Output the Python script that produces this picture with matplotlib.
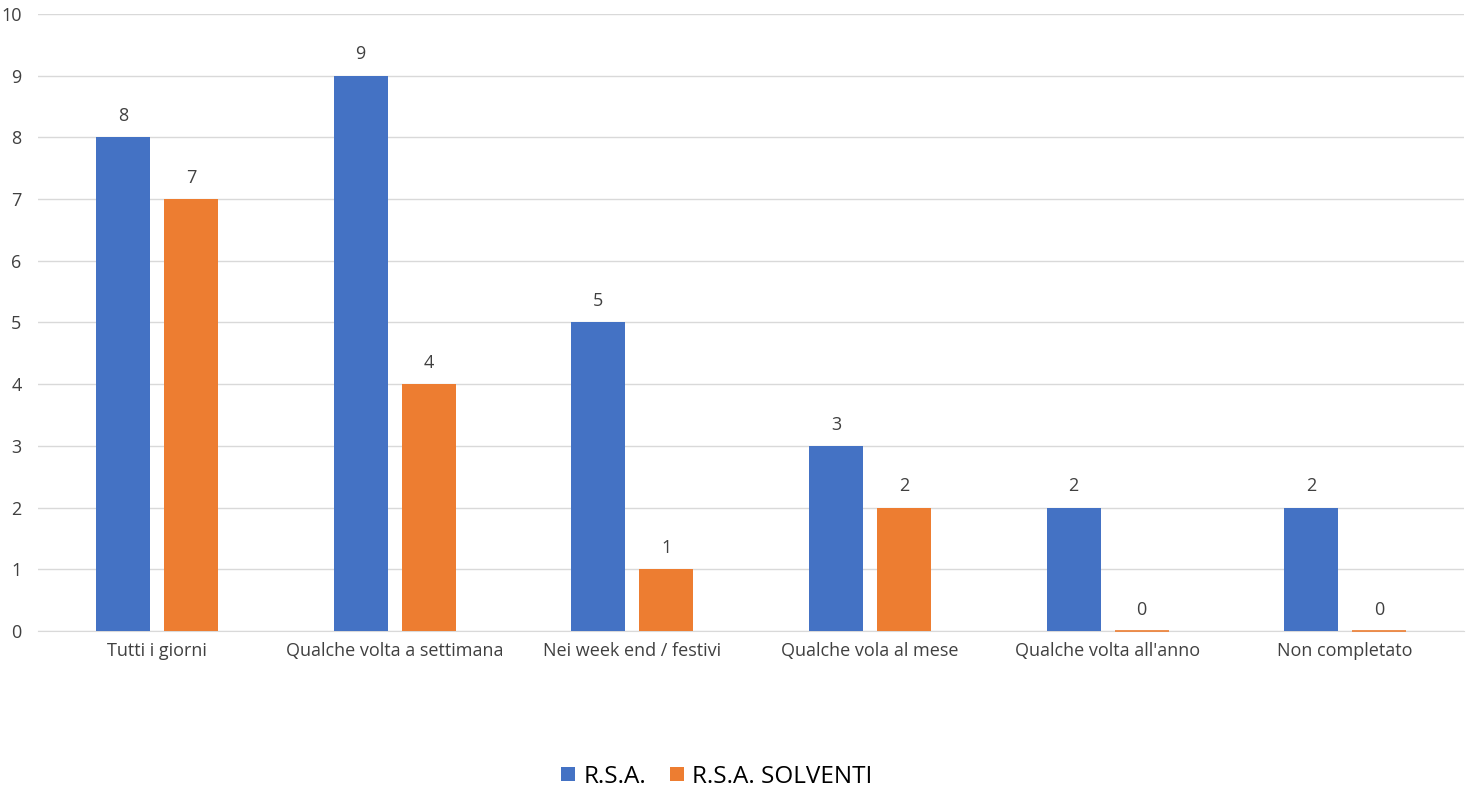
import matplotlib.pyplot as plt
import numpy as np

plt.rcParams['font.family'] = ['Open Sans', 'DejaVu Sans']

categorie = ['Tutti i giorni', 'Qualche volta a settimana', 'Nei week end / festivi',
             'Qualche vola al mese', "Qualche volta all'anno", 'Non completato']
rsa = [8, 9, 5, 3, 2, 2]
rsa_solventi = [7, 4, 1, 2, 0, 0]

blu = '#4472C4'
arancio = '#ED7D31'

fig = plt.figure(figsize=(14.69, 7.95), dpi=100)
ax = fig.add_axes([0.026, 0.2063, 0.9706, 0.7761])

x = np.arange(len(categorie))
w = 0.227
off = 0.143

b1 = ax.bar(x - off, rsa, w, color=blu, label='R.S.A.', zorder=3)
b2 = ax.bar(x + off, rsa_solventi, w, color=arancio, label='R.S.A. SOLVENTI', zorder=4,
            clip_on=False)
# le barre a zero si vedono come una sottile linea arancione
for r, v in zip(b2, rsa_solventi):
    if v == 0:
        r.set_edgecolor(arancio)
        r.set_linewidth(1.2)

for bars, vals in ((b1, rsa), (b2, rsa_solventi)):
    for r, v in zip(bars, vals):
        ax.text(r.get_x() + r.get_width() / 2, v + 0.2, str(v), ha='center', va='bottom',
                fontsize=13, color='#404040')

ax.set_xlim(-0.5, len(categorie) - 0.5)
ax.set_ylim(0, 10)
ax.set_yticks(range(0, 11))
ax.yaxis.grid(True, color='#D9D9D9', linewidth=1, zorder=0)
ax.set_axisbelow(True)
for s in ['top', 'right', 'left']:
    ax.spines[s].set_visible(False)
ax.spines['bottom'].set_color('#D9D9D9')
ax.tick_params(axis='both', length=0, labelsize=13, labelcolor='#404040')
ax.tick_params(axis='x', pad=8)
ax.tick_params(axis='y', pad=12)
ax.set_xticks(x)
ax.set_xticklabels(categorie)

fig.legend(handles=[b1, b2], loc='center', bbox_to_anchor=(0.488, 0.023), ncol=2,
           frameon=False, fontsize=17.5, handlelength=0.55, handleheight=0.55,
           handletextpad=0.35, columnspacing=1.0, labelcolor='black')

fig.savefig('out.png', dpi=100)
